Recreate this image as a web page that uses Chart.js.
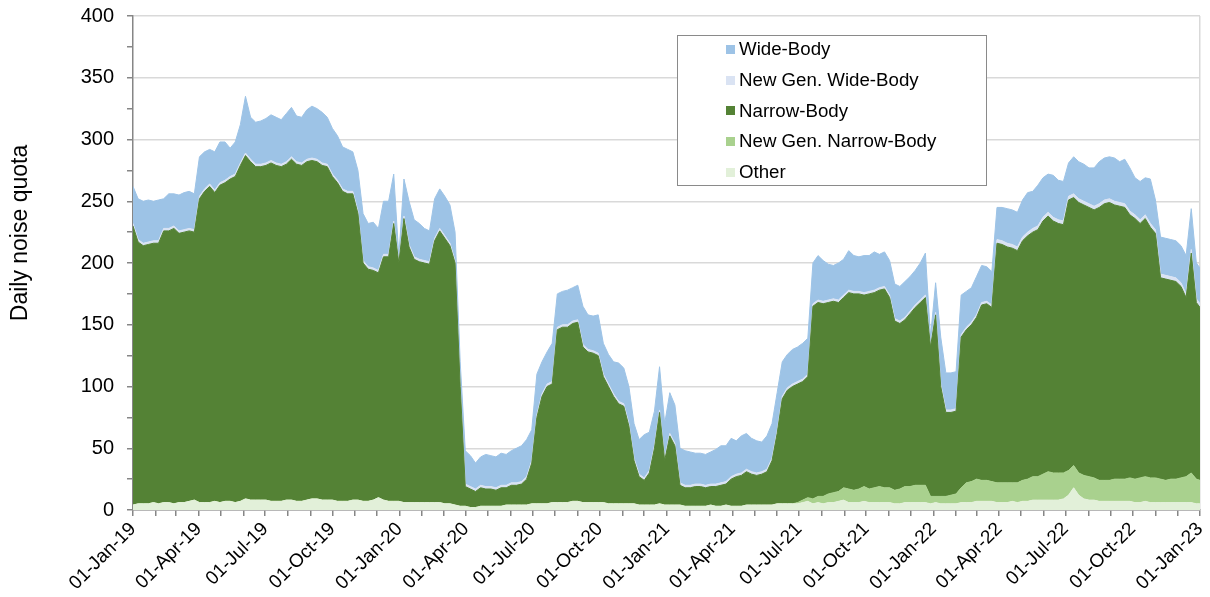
<!DOCTYPE html>
<html>
<head>
<meta charset="utf-8">
<script src="https://cdn.jsdelivr.net/npm/chart.js@4.4.0/dist/chart.umd.min.js"></script>
<style>
  body { margin: 0; background: #fff; font-family: "Liberation Sans", Arial, sans-serif; }
  #wrap { position: relative; width: 1210px; height: 597px; }
  #legend { position: absolute; left: 677px; top: 35px; width: 308px; height: 149px;
            border: 1.5px solid #8a8a8a; background: #fff; }
  #legend .list { position: absolute; left: 48px; top: -2px; }
  #legend .item { height: 30.7px; display: flex; align-items: center; font-size: 18.7px; color: #000; white-space: nowrap; }
  #legend .box { width: 9px; height: 9px; margin-right: 4px; }
</style>
</head>
<body>
<div id="wrap">
  <canvas id="noise" width="1210" height="597"></canvas>
  <div id="legend"><div class="list"></div></div>
</div>
<script>
// weekly values, 2019-01-01 .. 2023-01-01 (bottom of stack first)
var other = [
  4,5,5,5,6,5,6,6,5,6,6,7,8,
  6,6,6,7,6,7,7,6,7,9,8,8,8,
  8,7,7,7,8,8,7,7,8,9,9,8,8,
  8,7,7,7,8,8,7,7,8,10,8,7,7,
  7,6,6,6,6,6,6,6,6,5,5,4,3,
  3,2,2,3,3,3,3,3,4,4,4,4,4,
  5,5,5,5,6,6,6,6,7,7,6,6,6,
  6,6,5,5,5,5,5,5,4,4,4,4,5,
  4,4,4,4,3,3,3,3,3,4,3,3,4,
  3,3,3,4,4,4,4,4,4,5,5,5,5,
  5,6,7,5,6,5,6,6,7,8,6,6,6,
  7,6,6,6,6,6,5,5,6,6,6,6,6,
  5,6,5,5,5,5,6,6,6,7,7,7,7,
  6,6,6,7,6,7,7,8,8,8,8,8,8,
  9,12,18,12,9,8,8,7,7,7,7,7,7,
  7,6,6,7,6,6,6,6,6,6,6,6,6,5,5
];
var newGenNarrow = [
  0,0,0,0,0,0,0,0,0,0,0,0,0,
  0,0,0,0,0,0,0,0,0,0,0,0,0,
  0,0,0,0,0,0,0,0,0,0,0,0,0,
  0,0,0,0,0,0,0,0,0,0,0,0,0,
  0,0,0,0,0,0,0,0,0,0,0,0,0,
  0,0,0,0,0,0,0,0,0,0,0,0,0,
  0,0,0,0,0,0,0,0,0,0,0,0,0,
  0,0,0,0,0,0,0,0,0,0,0,0,0,
  0,0,0,0,0,0,0,0,0,0,0,0,0,
  0,0,0,0,0,0,0,0,0,0,0,0,0,
  1,2,3,4,5,6,7,8,8,10,11,10,11,
  12,11,12,13,12,12,11,12,13,13,14,14,14,
  6,5,6,6,7,8,12,16,17,18,17,17,16,
  16,16,16,15,16,17,18,19,19,21,23,22,22,
  21,20,18,18,19,19,18,17,17,17,18,18,18,
  19,19,20,20,20,20,19,18,19,19,20,21,24,20,19
];
var narrow = [
  226,212,209,210,210,211,220,220,223,218,219,219,217,
  246,252,256,250,257,258,261,264,272,278,274,270,270,
  271,274,272,271,272,276,273,272,274,274,273,271,270,
  262,258,251,249,248,232,193,188,186,182,197,198,225,
  193,230,207,197,195,194,193,212,220,215,209,196,97,
  16,15,13,15,14,14,13,15,14,16,16,17,21,
  33,70,87,95,96,140,142,142,144,145,126,122,121,
  119,102,95,87,81,79,63,35,23,20,26,46,74,
  36,56,48,16,15,15,16,16,15,15,16,17,17,
  22,24,25,27,25,24,25,27,36,57,85,92,95,
  96,96,98,156,157,156,155,155,153,154,159,159,158,
  155,158,158,159,161,154,137,134,135,140,144,148,152,
  121,147,89,68,67,67,122,124,127,131,142,143,141,
  194,193,191,190,188,194,197,198,200,205,207,204,202,
  201,219,217,219,219,218,217,221,224,225,222,221,220,
  213,211,206,209,203,198,163,163,161,160,155,145,178,143,140
];
var newGenWide = [
  2,2,2,2,2,2,2,2,2,2,2,2,2,
  2,2,2,2,2,2,2,2,2,2,2,2,2,
  2,2,2,2,2,2,2,2,2,2,2,2,2,
  2,2,2,2,2,2,2,2,2,2,2,2,2,
  2,2,2,2,2,2,2,2,2,2,2,2,2,
  2,2,2,2,2,2,2,2,2,2,2,2,2,
  2,2,2,2,2,2,2,2,2,2,2,2,2,
  2,2,2,2,2,2,2,2,2,2,2,2,2,
  2,2,2,2,2,2,2,2,2,2,2,2,2,
  2,2,2,2,2,2,2,2,2,2,2,2,2,
  2,2,2,2,2,2,2,2,2,2,2,2,2,
  2,2,2,2,2,2,2,2,2,2,2,2,2,
  2,2,2,2,2,2,2,2,2,2,2,2,2,
  3,3,3,3,3,3,3,3,3,3,3,3,3,
  3,3,3,3,3,3,3,3,3,3,3,3,3,
  3,3,3,3,3,3,3,3,3,3,3,3,3,3,3
];
var wide = [
  30,33,34,34,32,33,24,28,26,29,30,30,29,
  32,30,28,31,33,31,23,26,31,46,34,34,35,
  36,37,37,36,39,40,37,37,40,42,41,41,38,
  37,36,34,34,32,33,38,35,37,34,43,43,38,
  3,30,35,30,29,26,25,32,32,32,31,23,18,
  27,25,21,23,26,25,25,26,25,26,28,29,30,
  25,33,26,26,31,27,27,28,27,28,31,28,28,
  31,25,24,26,31,29,30,28,28,35,31,28,35,
  28,33,31,28,28,27,25,25,25,26,28,30,29,
  31,27,30,29,27,26,24,27,28,31,28,27,28,
  28,29,29,33,36,33,29,27,30,29,32,29,28,
  30,29,31,27,28,28,28,28,29,28,28,30,34,
  6,24,38,30,30,30,32,29,28,31,30,28,27,
  26,27,28,28,28,30,32,30,33,32,31,34,32,
  32,27,30,30,30,29,31,34,34,34,35,33,36,
  35,30,31,30,36,24,30,30,30,30,30,31,33,29,29
];

var seriesNames = ["Other", "New Gen. Narrow-Body", "Narrow-Body", "New Gen. Wide-Body", "Wide-Body"];
var seriesColors = ["#E2F0D9", "#A9D18E", "#548235", "#DAE3F3", "#9DC3E6"];
var monthNames = ["Jan","Feb","Mar","Apr","May","Jun","Jul","Aug","Sep","Oct","Nov","Dec"];
var yTitle = "Daily noise quota";

var DAY = 86400000;
var start = Date.UTC(2019, 0, 1);
var endDay = (Date.UTC(2023, 0, 1) - start) / DAY;

// x positions: one point a week, last point on 01-Jan-23
var days = other.map(function (v, i) { return i < other.length - 1 ? i * 7 : endDay; });

// monthly tick marks, labels every quarter
var monthTicks = [];
var tickLabels = {};
for (var m = 0; m <= 48; m++) {
  var d = (Date.UTC(2019, m, 1) - start) / DAY;
  monthTicks.push(d);
  tickLabels[d] = m % 3 === 0 ? "01-" + monthNames[m % 12] + "-" + (19 + Math.floor(m / 12)) : "";
}

var values = [other, newGenNarrow, narrow, newGenWide, wide];
var datasets = values.map(function (arr, k) {
  return {
    label: seriesNames[k],
    data: arr.map(function (v, i) { return { x: days[i], y: v }; }),
    backgroundColor: seriesColors[k],
    borderColor: seriesColors[k],
    borderWidth: 1,
    pointRadius: 0,
    tension: 0,
    fill: k === 0 ? "origin" : "-1"
  };
});

var font = "'Liberation Sans', Arial, sans-serif";
Chart.defaults.font.family = font;
Chart.defaults.color = "#000";

// y title sits a little above the middle of the axis in the original
var sideTitle = {
  id: "sideTitle",
  afterDraw: function (chart) {
    var c = chart.ctx;
    c.save();
    c.translate(21, 233);
    c.rotate(-Math.PI / 2);
    c.font = "23px " + font;
    c.fillStyle = "#000";
    c.textAlign = "center";
    c.textBaseline = "middle";
    c.fillText(yTitle, 0, 0);
    c.restore();
  }
};

var ctx = document.getElementById("noise").getContext("2d");
window.noiseChart = new Chart(ctx, {
  type: "line",
  data: { datasets: datasets },
  plugins: [sideTitle],
  options: {
    responsive: false,
    animation: false,
    layout: { padding: { top: 16, right: 10, left: 0, bottom: 0 } },
    plugins: { legend: { display: false }, tooltip: { enabled: false } },
    scales: {
      x: {
        type: "linear",
        min: 0,
        max: endDay,
        border: { color: "#868686", width: 1.5 },
        grid: {
          color: function (c) { return c.index === monthTicks.length - 1 ? "#d9d9d9" : "rgba(0,0,0,0)"; },
          tickColor: "#868686",
          tickLength: 6,
          lineWidth: 1.5
        },
        afterBuildTicks: function (s) { s.ticks = monthTicks.map(function (v) { return { value: v }; }); },
        ticks: {
          autoSkip: false,
          maxRotation: 45,
          minRotation: 45,
          padding: 2,
          font: { size: 19 },
          callback: function (v) { return tickLabels[v]; }
        },
        afterFit: function (s) { s.height = 87; s.paddingLeft = 0; s.paddingRight = 0; }
      },
      y: {
        stacked: true,
        min: 0,
        max: 400,
        border: { color: "#868686", width: 1.5 },
        grid: {
          color: function (c) { return c.tick.value % 50 === 0 ? "#d9d9d9" : "rgba(0,0,0,0)"; },
          tickColor: "#868686",
          tickLength: 6,
          lineWidth: 1.5
        },
        ticks: {
          stepSize: 25,
          padding: 13,
          font: { size: 20 },
          callback: function (v) { return v % 50 === 0 ? v : ""; }
        },
        afterFit: function (s) { s.width = 133; s.paddingTop = 0; s.paddingBottom = 0; }
      }
    }
  }
});

// legend, top of the stack first
var list = document.querySelector("#legend .list");
for (var k = seriesNames.length - 1; k >= 0; k--) {
  var item = document.createElement("div");
  item.className = "item";
  item.innerHTML = '<span class="box" style="background:' + seriesColors[k] + '"></span>' + seriesNames[k];
  list.appendChild(item);
}
</script>
</body>
</html>
